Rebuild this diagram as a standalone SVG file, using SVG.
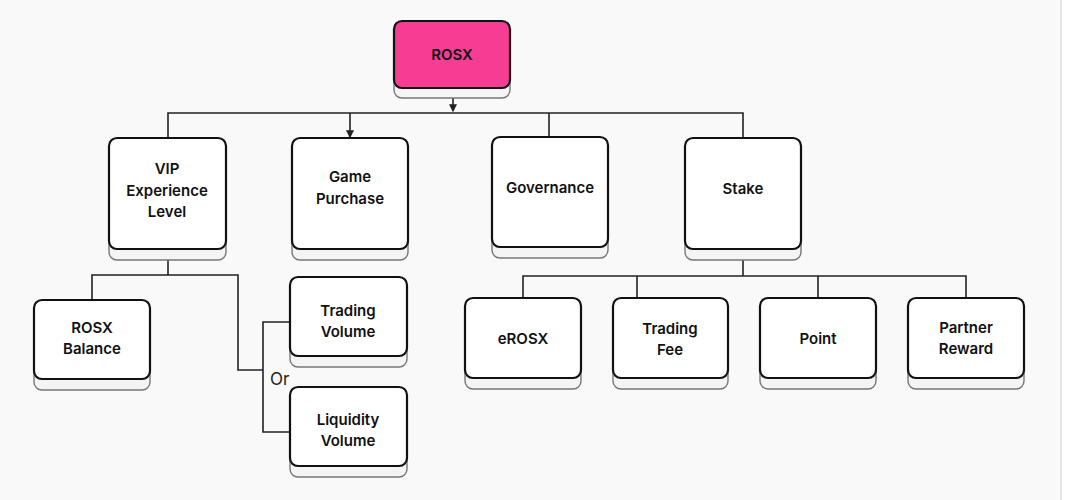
<svg xmlns="http://www.w3.org/2000/svg" width="1065" height="500" viewBox="0 0 1065 500">
<style>
.box{fill:#fff;stroke:#111;stroke-width:2.2}
.sh{fill:#f4f4f4;stroke:#777;stroke-width:1.4}
.t{font-family:Inter,"Liberation Sans",sans-serif;font-size:15px;font-weight:600;fill:#111;text-anchor:middle}
.c{fill:none;stroke:#222;stroke-width:1.6}
</style>
<defs><marker id="a" viewBox="0 0 6 6" refX="5" refY="3" markerWidth="5" markerHeight="5" orient="auto"><path d="M0,0L6,3L0,6z" fill="#222"/></marker></defs>
<rect x="-10" y="-10" width="1071" height="520" rx="10" fill="#f9f9f9" stroke="#d0d0d0"/>
<g id="connectors">
<path class="c" d="M453,88V111" marker-end="url(#a)"/>
<path class="c" d="M168,139V113H743V138"/>
<path class="c" d="M350,113V137" marker-end="url(#a)"/>
<path class="c" d="M549,113V137"/>
<path class="c" d="M523,298V276H966V298M637,276V298M818,276V298"/>
<path class="c" d="M743,276V250" marker-end="url(#a)"/>
<path class="c" d="M92,300V275H238V370H263"/>
<path class="c" d="M168,275V250" marker-end="url(#a)"/>
<path class="c" d="M290,322H263V432H290"/>
<text x="270" y="385" font-family="Inter,'Liberation Sans',sans-serif" font-size="17" fill="#222">Or</text>
</g>
<g id="rosx"><rect class="sh" x="394" y="32" width="116" height="66" rx="8"/><rect x="394" y="21" width="116" height="67" rx="8" fill="#f53d94" stroke="#111" stroke-width="2.2"/><text class="t" x="452" y="60">ROSX</text></g>
<g id="vip"><rect class="sh" x="109" y="150" width="117" height="110" rx="8"/><rect class="box" x="109" y="138" width="117" height="111" rx="8"/><text class="t" x="167" y="174">VIP</text><text class="t" x="167" y="196">Experience</text><text class="t" x="167" y="217">Level</text></g>
<g id="game"><rect class="sh" x="292" y="150" width="116" height="110" rx="8"/><rect class="box" x="292" y="138" width="116" height="111" rx="8"/><text class="t" x="350" y="182">Game</text><text class="t" x="350" y="204">Purchase</text></g>
<g id="gov"><rect class="sh" x="492" y="148" width="116" height="110" rx="8"/><rect class="box" x="492" y="137" width="116" height="110" rx="8"/><text class="t" x="550" y="193">Governance</text></g>
<g id="stake"><rect class="sh" x="685" y="150" width="116" height="110" rx="8"/><rect class="box" x="685" y="138" width="116" height="111" rx="8"/><text class="t" x="743" y="194">Stake</text></g>
<g id="balance"><rect class="sh" x="34" y="311" width="116" height="79" rx="8"/><rect class="box" x="34" y="300" width="116" height="79" rx="8"/><text class="t" x="92" y="333">ROSX</text><text class="t" x="92" y="354">Balance</text></g>
<g id="tradingvol"><rect class="sh" x="290" y="288" width="117" height="79" rx="8"/><rect class="box" x="290" y="277" width="117" height="79" rx="8"/><text class="t" x="348" y="316">Trading</text><text class="t" x="348" y="337">Volume</text></g>
<g id="liqvol"><rect class="sh" x="290" y="398" width="117" height="79" rx="8"/><rect class="box" x="290" y="387" width="117" height="79" rx="8"/><text class="t" x="348" y="425">Liquidity</text><text class="t" x="348" y="446">Volume</text></g>
<g id="erosx"><rect class="sh" x="465" y="309" width="116" height="80" rx="8"/><rect class="box" x="465" y="298" width="116" height="80" rx="8"/><text class="t" x="523" y="344">eROSX</text></g>
<g id="fee"><rect class="sh" x="613" y="309" width="115" height="80" rx="8"/><rect class="box" x="613" y="298" width="115" height="80" rx="8"/><text class="t" x="670" y="334">Trading</text><text class="t" x="670" y="355">Fee</text></g>
<g id="point"><rect class="sh" x="760" y="309" width="116" height="80" rx="8"/><rect class="box" x="760" y="298" width="116" height="80" rx="8"/><text class="t" x="818" y="344">Point</text></g>
<g id="partner"><rect class="sh" x="908" y="309" width="116" height="80" rx="8"/><rect class="box" x="908" y="298" width="116" height="80" rx="8"/><text class="t" x="966" y="333">Partner</text><text class="t" x="966" y="354">Reward</text></g>
</svg>
